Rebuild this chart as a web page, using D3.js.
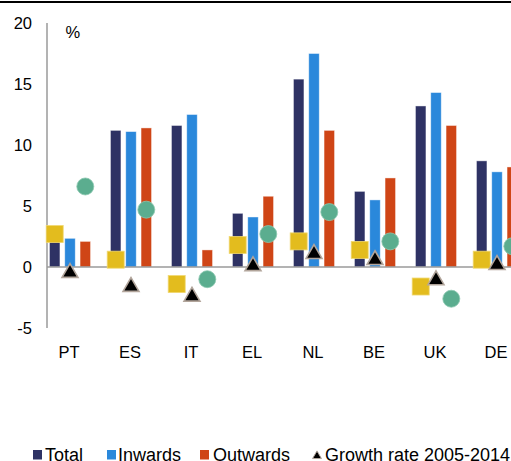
<!DOCTYPE html>
<html>
<head>
<meta charset="utf-8">
<script src="https://cdn.jsdelivr.net/npm/d3@7"></script>
<style>
  html, body { margin: 0; padding: 0; background: #fff; overflow: hidden; }
  svg { display: block; font-family: "Liberation Sans", Arial, sans-serif; }
</style>
</head>
<body>
<svg id="chart" width="511" height="461"></svg>
<script>
// ---- data ----
const categories = ["PT", "ES", "IT", "EL", "NL", "BE", "UK", "DE"];
const totalValues    = [2.4, 11.2, 11.6, 4.4, 15.4, 6.2, 13.2, 8.7];
const inwardsValues  = [2.35, 11.1, 12.5, 4.1, 17.5, 5.5, 14.3, 7.8];
const outwardsValues = [2.1, 11.4, 1.4, 5.8, 11.2, 7.3, 11.6, 8.2];
const growthRate     = [-0.35, -1.5, -2.3, 0.2, 1.2, 0.7, -0.95, 0.3];
const squareValues   = [2.7, 0.6, -1.4, 1.8, 2.1, 1.4, -1.6, 0.6];
const circleValues   = [6.6, 4.7, -1.0, 2.7, 4.5, 2.1, -2.6, 1.7];
const yTicks = [-5, 0, 5, 10, 15, 20];
const seriesNames = ["Total", "Inwards", "Outwards"];
const legendLabels = ["Total", "Inwards", "Outwards", "Growth rate 2005-2014"];

const colors = { Total: "#2E3264", Inwards: "#2A88DB", Outwards: "#CF4516" };
const seriesValues = { Total: totalValues, Inwards: inwardsValues, Outwards: outwardsValues };

const svg = d3.select("#chart");

// top rule
svg.append("line").attr("x1", 0).attr("x2", 511).attr("y1", 2).attr("y2", 2)
  .attr("stroke", "#000").attr("stroke-width", 2);

const y = d3.scaleLinear().domain([-5, 20]).range([328, 23]);
const x = d3.scaleBand().domain(categories).range([39.5, 527.5]);
const off = d3.scalePoint().domain(seriesNames).range([-15.3, 15.3]);
const barW = 10.5;
const cx = c => x(c) + x.bandwidth() / 2;

// y axis line
svg.append("line").attr("x1", 47).attr("x2", 47).attr("y1", y(20)).attr("y2", y(-5))
  .attr("stroke", "#9a9a9a").attr("stroke-width", 1.5);

// y tick labels
svg.append("g").selectAll("text").data(yTicks).join("text")
  .attr("x", 32).attr("y", d => y(d)).attr("dy", "0.36em")
  .attr("text-anchor", "end").attr("font-size", 16.5).attr("fill", "#000")
  .text(d => d);

svg.append("text").attr("x", 65.5).attr("y", 32).attr("dy", "0.36em")
  .attr("font-size", 16.5).text("%");

// bars
seriesNames.forEach(s => {
  svg.append("g").selectAll("rect").data(categories).join("rect")
    .attr("x", (c) => cx(c) + off(s) - barW / 2)
    .attr("width", barW)
    .attr("y", (c, i) => y(Math.max(0, seriesValues[s][i])))
    .attr("height", (c, i) => Math.abs(y(seriesValues[s][i]) - y(0)))
    .attr("fill", colors[s])
    .attr("stroke", "#ffffff").attr("stroke-opacity", 0.55).attr("stroke-width", 0.8);
});

// zero line
svg.append("line").attr("x1", 47).attr("x2", 511).attr("y1", y(0)).attr("y2", y(0))
  .attr("stroke", "#9a9a9a").attr("stroke-width", 1.5);

// squares (at Total position)
const sq = 17;
svg.append("g").selectAll("rect").data(categories).join("rect")
  .attr("x", c => cx(c) + off("Total") - sq / 2)
  .attr("y", (c, i) => y(squareValues[i]) - sq / 2)
  .attr("width", sq).attr("height", sq)
  .attr("fill", "#E3BC1E").attr("stroke", "#f0d870").attr("stroke-width", 0.8);

// circles (at Outwards position)
svg.append("g").selectAll("circle").data(categories).join("circle")
  .attr("cx", c => cx(c) + off("Outwards"))
  .attr("cy", (c, i) => y(circleValues[i]))
  .attr("r", 8.5)
  .attr("fill", "#5BAD8F").attr("stroke", "#8cc8b0").attr("stroke-width", 0.8);

// triangles (at Inwards position)
const tri = d3.symbol().type(d3.symbolTriangle).size(110);
svg.append("g").selectAll("path").data(categories).join("path")
  .attr("transform", (c, i) => `translate(${cx(c) + off("Inwards")},${y(growthRate[i]) + 1.5})`)
  .attr("d", tri)
  .attr("fill", "#000").attr("stroke", "#b2a59b").attr("stroke-width", 1.6);

// x labels
svg.append("g").selectAll("text").data(categories).join("text")
  .attr("x", c => cx(c) - 1).attr("y", 357.5)
  .attr("text-anchor", "middle").attr("font-size", 16.5).text(c => c);

// legend (cropped at the bottom edge as in the reference)
const legBase = 460.5;
const lg = svg.append("g");
const legendPos = [{ mx: 33, tx: 45 }, { mx: 107, tx: 118 }, { mx: 200, tx: 213 }, { mx: 313, tx: 325 }];
legendLabels.forEach((lab, i) => {
  const p = legendPos[i];
  if (i < 3) {
    lg.append("rect").attr("x", p.mx).attr("y", 450).attr("width", 9).attr("height", 9.5)
      .attr("fill", colors[seriesNames[i]]);
  } else {
    lg.append("path").attr("d", d3.symbol().type(d3.symbolTriangle).size(34))
      .attr("transform", `translate(${p.mx + 4},${456})`)
      .attr("fill", "#000").attr("stroke", "#b2a59b").attr("stroke-width", 1);
  }
  lg.append("text").attr("x", p.tx).attr("y", legBase)
    .attr("font-size", 18).text(lab);
});
</script>
</body>
</html>
